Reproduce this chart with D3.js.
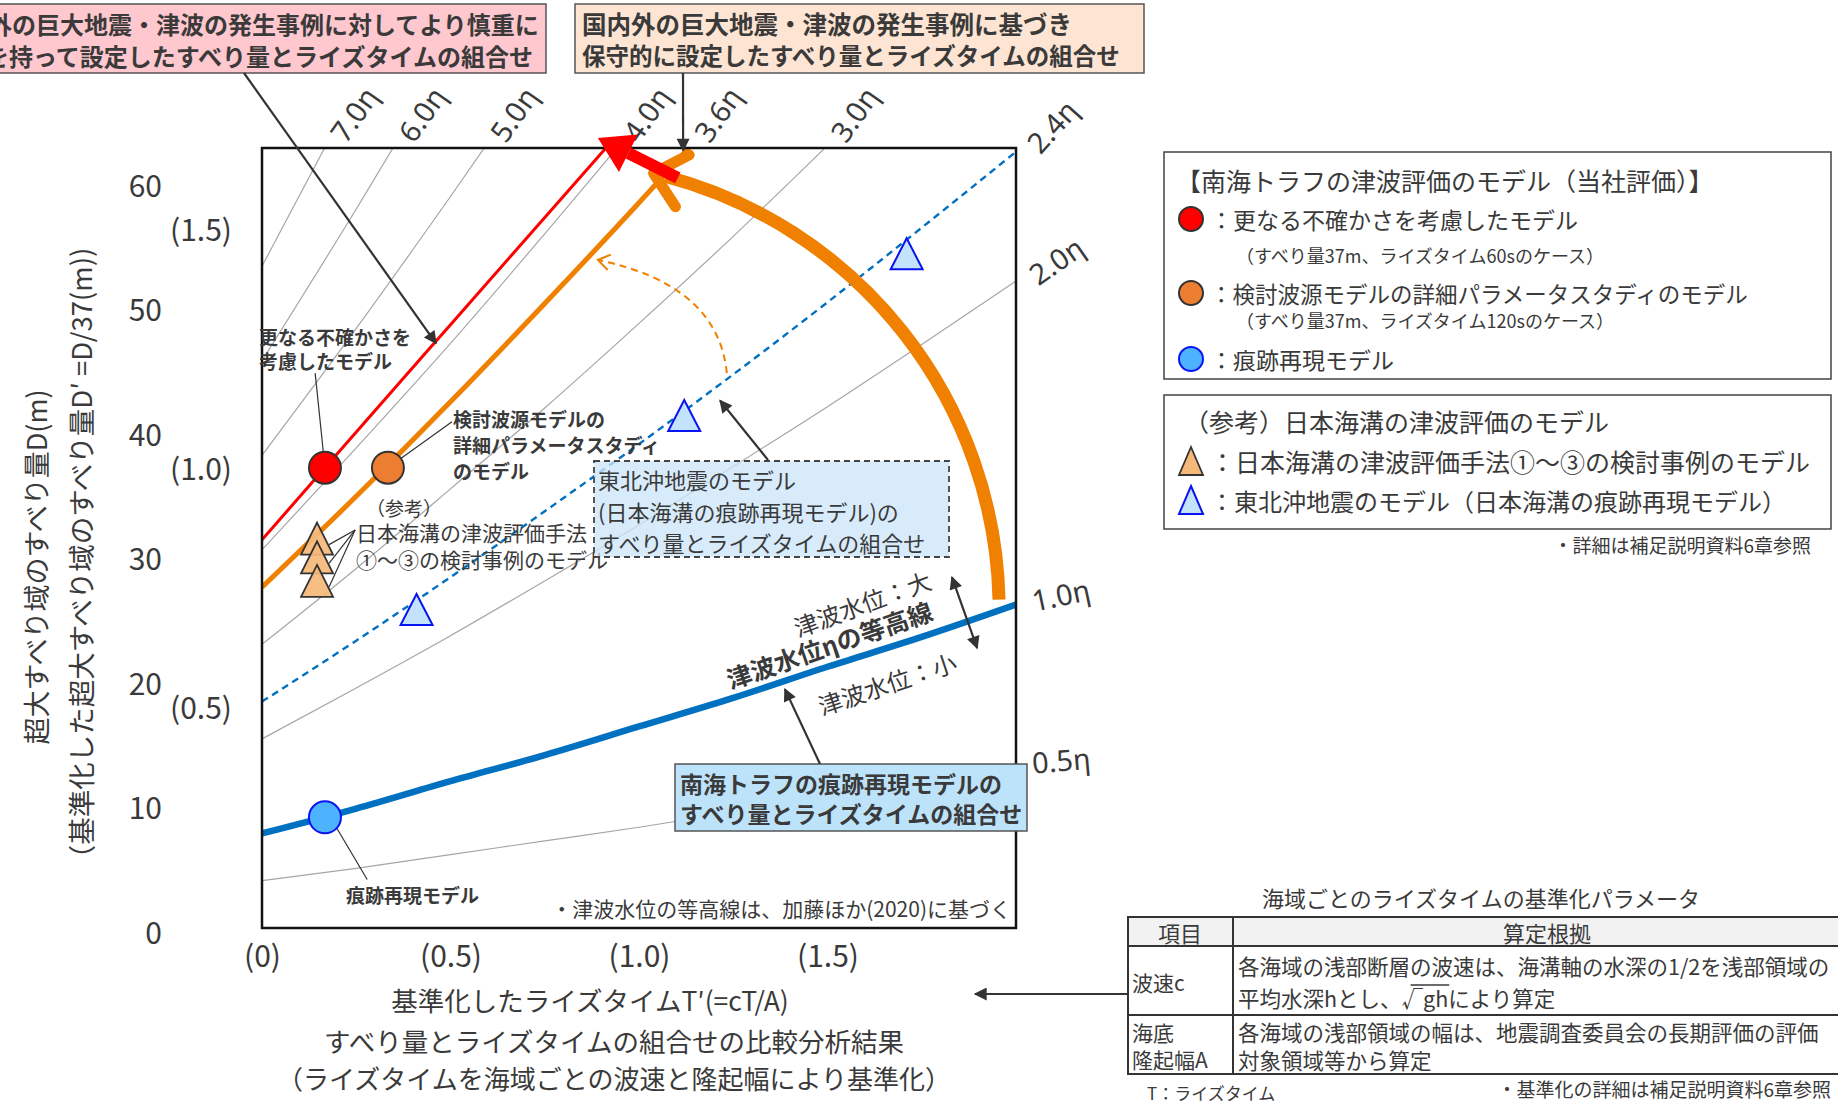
<!DOCTYPE html>
<html><head><meta charset="utf-8">
<script src="https://cdn.jsdelivr.net/npm/d3@7"></script>
<style>body{margin:0;background:#fff}svg{display:block}</style>
</head><body><svg id="c" width="1838" height="1102"></svg>
<script>
// ---------------- data ----------------
const tTickValues = [0, 0.5, 1.0, 1.5];
const tTickLabels = ["(0)", "(0.5)", "(1.0)", "(1.5)"];
const dTickValues = [0, 10, 20, 30, 40, 50, 60];
const dPrimeTickValues = [0.5, 1.0, 1.5];
const dPrimeTickLabels = ["(0.5)", "(1.0)", "(1.5)"];

const contourLevels = ["7.0η","6.0η","5.0η","4.0η","3.6η","3.0η","2.4η","2.0η","1.0η","0.5η"];
const contourT = [0, 0.25, 0.5, 0.75, 1.0, 1.25, 1.5, 1.75, 2.0];
const contourD = [
  [53.2, 67.5],
  [45.6, 57.8, 70.5],
  [38.0, 48.2, 58.8, 69.7],
  [30.4, 38.6, 47.0, 55.8, 64.8],
  [27.4, 34.7, 42.3, 50.2, 58.3, 66.7],
  [22.8, 28.9, 35.3, 41.8, 48.6, 55.6, 62.9, 70.3],
  [18.2, 23.1, 28.2, 33.5, 38.9, 44.5, 50.3, 56.3, 62.4],
  [15.2, 19.3, 23.5, 27.9, 32.4, 37.1, 41.9, 46.9, 52.0],
  [7.6, 9.6, 11.8, 13.9, 16.2, 18.5, 21.0, 23.4, 26.0],
  [3.8, 4.8, 5.9, 7.0, 8.1, 9.3, 10.5, 11.7, 13.0]
];
const redLineT = [0, 0.167, 0.5, 0.95];
const redLineD = [31.2, 37.0, 48.5, 64.0];

const modelNames = ["更なる不確かさを考慮したモデル", "検討波源モデルの詳細パラメータスタディのモデル", "痕跡再現モデル"];
const modelT = [0.167, 0.334, 0.167];
const modelD = [37.0, 37.0, 8.9];

const trenchT = [0.146, 0.146, 0.146];
const trenchD = [31.3, 29.8, 27.9];
const tohokuT = [0.41, 1.12, 1.71];
const tohokuD = [25.6, 41.2, 54.2];

// ---------------- setup ----------------
const JP = "'Noto Sans CJK JP','Noto Sans',sans-serif";
const TXT = "#3a3a3a";
const svg = d3.select("#c");
const x = d3.scaleLinear().domain([0, 2]).range([262, 1016]);
const y = d3.scaleLinear().domain([0, 62.7]).range([928, 148]);
const y2 = d3.scaleLinear().domain([0, 1.5]).range([947, 230]);

const defs = svg.append("defs");
defs.append("clipPath").attr("id", "plotclip").append("rect")
  .attr("x", 262).attr("y", 148).attr("width", 754).attr("height", 780);
defs.append("marker").attr("id", "ah").attr("viewBox", "0 0 10 10")
  .attr("refX", 9).attr("refY", 5).attr("markerWidth", 16).attr("markerHeight", 13)
  .attr("markerUnits", "userSpaceOnUse").attr("orient", "auto-start-reverse")
  .append("path").attr("d", "M0,0 L10,5 L0,10 z").attr("fill", "#333");

function txt(sel, X, Y, s, o = {}) {
  return sel.append("text").attr("x", X).attr("y", Y)
    .attr("font-family", o.ff || JP).attr("font-size", o.fs || 20)
    .attr("font-weight", o.fw || "normal").attr("fill", o.fill || TXT)
    .attr("text-anchor", o.anchor || "start").attr("dominant-baseline", "central")
    .text(s);
}
function arrow(x1, y1, x2, y2_) {
  return svg.append("line").attr("x1", x1).attr("y1", y1).attr("x2", x2).attr("y2", y2_)
    .attr("stroke", "#333").attr("stroke-width", 2.2).attr("marker-end", "url(#ah)");
}
function leader(x1, y1, x2, y2_) {
  svg.append("line").attr("x1", x1).attr("y1", y1).attr("x2", x2).attr("y2", y2_)
    .attr("stroke", "#333").attr("stroke-width", 1.2);
}
function triPath(w, h) { return `M0,${-h/2} L${w/2},${h/2} L${-w/2},${h/2} Z`; }
const rot = (v, t) => [v[0] * Math.cos(t) - v[1] * Math.sin(t), v[0] * Math.sin(t) + v[1] * Math.cos(t)];

// ---------------- contours ----------------
const line = d3.line().x(d => x(d[0])).y(d => y(d[1])).curve(d3.curveMonotoneX);
const special = {
  "3.6η": { stroke: "#f08000", w: 5 },
  "2.4η": { stroke: "#0070c0", w: 2.4, dash: "7,5" },
  "1.0η": { stroke: "#0070c0", w: 6.5 }
};
const labelRot = { "7.0η": -55, "6.0η": -55, "5.0η": -55, "4.0η": -55, "3.6η": -55, "3.0η": -55,
  "2.4η": -48, "2.0η": -35, "1.0η": -12, "0.5η": -5 };
const plotG = svg.append("g").attr("clip-path", "url(#plotclip)");
const series = contourLevels.map((lv, i) => ({ lv, pts: contourD[i].map((d, j) => [contourT[j], d]) }));
series.filter(s => !special[s.lv]).forEach(s => {
  plotG.append("path").attr("d", line(s.pts)).attr("fill", "none")
    .attr("stroke", "#a6a6a6").attr("stroke-width", 1.2);
});
series.filter(s => special[s.lv]).forEach(s => {
  const st = special[s.lv];
  plotG.append("path").attr("d", line(s.pts)).attr("fill", "none")
    .attr("stroke", st.stroke).attr("stroke-width", st.w)
    .attr("stroke-dasharray", st.dash || null);
});
plotG.append("path").attr("d", line(redLineT.map((t, i) => [t, redLineD[i]])))
  .attr("fill", "none").attr("stroke", "#ff0000").attr("stroke-width", 3);

series.forEach(s => {
  const P = s.pts.map(p => [x(p[0]), y(p[1])]);
  let ex = P[P.length - 1], top = false;
  for (let k = 1; k < P.length; k++) {
    if (P[k][1] < 148) {
      const f = (P[k-1][1] - 148) / (P[k-1][1] - P[k][1]);
      ex = [P[k-1][0] + f * (P[k][0] - P[k-1][0]), 148]; top = true; break;
    }
  }
  const isTop = top && s.lv !== "2.4η";
  const dx = isTop ? 12 : 16, dy = isTop ? -10 : -4;
  svg.append("text").attr("transform", `translate(${ex[0] + dx},${ex[1] + dy}) rotate(${labelRot[s.lv]})`)
    .attr("font-family", "'Noto Sans','DejaVu Sans',sans-serif").attr("font-size", 29)
    .attr("fill", TXT).attr("dominant-baseline", "central").text(s.lv);
});

svg.append("rect").attr("x", 262).attr("y", 148).attr("width", 754).attr("height", 780)
  .attr("fill", "none").attr("stroke", "#111").attr("stroke-width", 2.5);

// ---------------- axes ----------------
const ax = svg.append("g").attr("transform", "translate(262,0)")
  .call(d3.axisLeft(y).tickValues(dTickValues).tickSize(0).tickPadding(100));
ax.select(".domain").remove();
ax.selectAll("text").attr("font-family", JP).attr("font-size", 30).attr("fill", TXT).attr("dy", "0.5em");
const ax2 = svg.append("g").attr("transform", "translate(262,0)")
  .call(d3.axisLeft(y2).tickValues(dPrimeTickValues).tickFormat((d, i) => dPrimeTickLabels[i]).tickSize(0).tickPadding(30));
ax2.select(".domain").remove();
ax2.selectAll("text").attr("font-family", JP).attr("font-size", 30).attr("fill", TXT).attr("dy", "0.36em");
const axb = svg.append("g").attr("transform", "translate(0,946)")
  .call(d3.axisBottom(x).tickValues(tTickValues).tickFormat((d, i) => tTickLabels[i]).tickSize(0).tickPadding(0));
axb.select(".domain").remove();
axb.selectAll("text").attr("font-family", JP).attr("font-size", 30).attr("fill", TXT);

svg.append("text").attr("transform", "translate(35,567) rotate(-90)").attr("text-anchor", "middle")
  .attr("dominant-baseline", "central").attr("font-family", JP).attr("font-size", 27).attr("fill", TXT)
  .text("超大すべり域のすべり量D(m)");
svg.append("text").attr("transform", "translate(80,560) rotate(-90)").attr("text-anchor", "middle")
  .attr("dominant-baseline", "central").attr("font-family", JP).attr("font-size", 27.5).attr("fill", TXT)
  .text("（基準化した超大すべり域のすべり量D′ =D/37(m))");

txt(svg, 590, 999, "基準化したライズタイムT′(=cT/A)", { fs: 26.5, anchor: "middle" });
txt(svg, 614, 1040, "すべり量とライズタイムの組合せの比較分析結果", { fs: 26.5, anchor: "middle" });
txt(svg, 614, 1077, "（ライズタイムを海域ごとの波速と隆起幅により基準化）", { fs: 26, anchor: "middle" });

// ---------------- big arrows ----------------
{
  const C = [x(0.767), y(25.6)], P0 = [x(1.955), y(26.4)], E = [x(1.07), y(60.5)];
  const R = Math.hypot(P0[0] - C[0], P0[1] - C[1]);
  const a = Math.atan2(E[1] - C[1], E[0] - C[0]);
  const P1 = [C[0] + R * Math.cos(a), C[1] + R * Math.sin(a)];
  svg.append("path").attr("d", `M${P0[0]},${P0[1]} A${R},${R} 0 0 0 ${P1[0]},${P1[1]}`)
    .attr("fill", "none").attr("stroke", "#f08000").attr("stroke-width", 13);
  const rx = P1[0] - C[0], ry = P1[1] - C[1];
  let d = [ry, -rx]; const n = Math.hypot(d[0], d[1]); d = [d[0] / n, d[1] / n];
  const tip = [P1[0] + d[0] * 12, P1[1] + d[1] * 12];
  const back = [-d[0], -d[1]], L = 40, ang = 42 * Math.PI / 180;
  const a1 = rot(back, ang), a2 = rot(back, -ang);
  svg.append("path").attr("d", `M${tip[0] + a1[0] * L},${tip[1] + a1[1] * L} L${tip[0]},${tip[1]} L${tip[0] + a2[0] * L},${tip[1] + a2[1] * L}`)
    .attr("fill", "none").attr("stroke", "#f08000").attr("stroke-width", 11)
    .attr("stroke-linecap", "round").attr("stroke-linejoin", "round");
}
{
  const S = [x(1.103), y(60.3)], T = [x(0.891), y(63.5)];
  const dx = T[0] - S[0], dy = T[1] - S[1], n = Math.hypot(dx, dy), u = [dx / n, dy / n], p = [-u[1], u[0]];
  const hl = 34, hw = 21;
  const B = [T[0] - u[0] * hl, T[1] - u[1] * hl];
  svg.append("line").attr("x1", S[0]).attr("y1", S[1]).attr("x2", B[0]).attr("y2", B[1])
    .attr("stroke", "#ff0000").attr("stroke-width", 12);
  svg.append("path").attr("d", `M${T[0]},${T[1]} L${B[0] + p[0] * hw},${B[1] + p[1] * hw} L${B[0] - p[0] * hw},${B[1] - p[1] * hw} Z`)
    .attr("fill", "#ff0000");
}
{
  const S = [x(1.233), y(44.6)], Q = [x(1.21), y(51.7)], T = [x(0.891), y(53.7)];
  svg.append("path").attr("d", `M${S[0]},${S[1]} Q${Q[0]},${Q[1]} ${T[0]},${T[1]}`)
    .attr("fill", "none").attr("stroke", "#f08000").attr("stroke-width", 2).attr("stroke-dasharray", "7,5");
  const dx = T[0] - Q[0], dy = T[1] - Q[1], n = Math.hypot(dx, dy), u = [dx / n, dy / n];
  const a1 = rot([-u[0], -u[1]], 0.6), a2 = rot([-u[0], -u[1]], -0.6);
  svg.append("path").attr("d", `M${T[0] + a1[0] * 14},${T[1] + a1[1] * 14} L${T[0]},${T[1]} L${T[0] + a2[0] * 14},${T[1] + a2[1] * 14}`)
    .attr("fill", "none").attr("stroke", "#f08000").attr("stroke-width", 2);
}

// ---------------- markers ----------------
leader(x(modelT[0]), y(modelD[0]), x(0.141), y(44.6));
leader(x(modelT[1]), y(modelD[1]), x(0.504), y(40.7));
leader(x(modelT[2]) + 3, y(modelD[2]) - 4, x(0.279), y(3.9));
trenchT.forEach((t, i) => leader(x(0.247), y(32.0), x(t) + 12, y(trenchD[i]) + 6));

svg.selectAll(".trench").data(trenchT).join("path").attr("class", "trench")
  .attr("transform", (t, i) => `translate(${x(t)},${y(trenchD[i])})`)
  .attr("d", triPath(32, 32)).attr("fill", "#f5b878").attr("fill-opacity", 0.92)
  .attr("stroke", "#333").attr("stroke-width", 1.8);
svg.selectAll(".tohoku").data(tohokuT).join("path").attr("class", "tohoku")
  .attr("transform", (t, i) => `translate(${x(t)},${y(tohokuD[i])})`)
  .attr("d", triPath(32, 31)).attr("fill", "#c2e3fb")
  .attr("stroke", "#0a14f0").attr("stroke-width", 2);
const modelFill = ["#ff0000", "#ed7d31", "#4db3ff"], modelStroke = ["#333", "#333", "#0a14f0"];
svg.selectAll(".model").data(modelNames).join("circle").attr("class", "model")
  .attr("cx", (d, i) => x(modelT[i])).attr("cy", (d, i) => y(modelD[i])).attr("r", 16)
  .attr("fill", (d, i) => modelFill[i]).attr("stroke", (d, i) => modelStroke[i]).attr("stroke-width", 2);

// ---------------- plot annotations ----------------
txt(svg, 259, 336, "更なる不確かさを", { fs: 19, fw: "bold" });
txt(svg, 259, 360, "考慮したモデル", { fs: 19, fw: "bold" });
txt(svg, 453, 418, "検討波源モデルの", { fs: 19, fw: "bold" });
txt(svg, 453, 444, "詳細パラメータスタディ", { fs: 19, fw: "bold" });
txt(svg, 453, 470, "のモデル", { fs: 19, fw: "bold" });
txt(svg, 366, 507, "（参考）", { fs: 19 });
txt(svg, 356, 532, "日本海溝の津波評価手法", { fs: 21 });
txt(svg, 356, 559, "①～③の検討事例のモデル", { fs: 21 });
txt(svg, 346, 894, "痕跡再現モデル", { fs: 19, fw: "bold" });
txt(svg, 1011, 908, "・津波水位の等高線は、加藤ほか(2020)に基づく", { fs: 21, anchor: "end" });

svg.append("rect").attr("x", 594).attr("y", 461).attr("width", 355).attr("height", 96)
  .attr("fill", "rgba(205,230,250,0.78)").attr("stroke", "#444").attr("stroke-width", 1.8).attr("stroke-dasharray", "6,4");
txt(svg, 598, 479, "東北沖地震のモデル", { fs: 22 });
txt(svg, 598, 511, "(日本海溝の痕跡再現モデル)の", { fs: 22 });
txt(svg, 598, 542, "すべり量とライズタイムの組合せ", { fs: 22 });
arrow(768, 460, x(1.215), y(42.4));

svg.append("text").attr("transform", "translate(862,603) rotate(-20)").attr("text-anchor", "middle")
  .attr("dominant-baseline", "central").attr("font-family", JP).attr("font-size", 24).attr("fill", TXT).text("津波水位：大");
svg.append("text").attr("transform", "translate(829,644) rotate(-19)").attr("text-anchor", "middle")
  .attr("dominant-baseline", "central").attr("font-family", JP).attr("font-size", 25).attr("font-weight", "bold").attr("fill", TXT).text("津波水位ηの等高線");
svg.append("text").attr("transform", "translate(887,683) rotate(-18.5)").attr("text-anchor", "middle")
  .attr("dominant-baseline", "central").attr("font-family", JP).attr("font-size", 24).attr("fill", TXT).text("津波水位：小");
svg.append("line").attr("x1", x(1.830)).attr("y1", y(28.2)).attr("x2", x(1.897)).attr("y2", y(22.5))
  .attr("stroke", "#333").attr("stroke-width", 2.2).attr("marker-start", "url(#ah)").attr("marker-end", "url(#ah)");

svg.append("rect").attr("x", 675).attr("y", 764).attr("width", 352).attr("height", 67)
  .attr("fill", "#bde3fa").attr("stroke", "#555").attr("stroke-width", 1.5);
txt(svg, 680, 783, "南海トラフの痕跡再現モデルの", { fs: 23, fw: "bold" });
txt(svg, 680, 813, "すべり量とライズタイムの組合せ", { fs: 23, fw: "bold" });
arrow(820, 764, x(1.387), y(19.2));

// ---------------- top callouts ----------------
svg.append("rect").attr("x", -10).attr("y", 4).attr("width", 556).attr("height", 69)
  .attr("fill", "#ffc7ce").attr("stroke", "#555").attr("stroke-width", 1.5);
txt(svg, -60, 23, "国内外の巨大地震・津波の発生事例に対してより慎重に", { fs: 24, fw: "bold" });
txt(svg, -63, 55, "余裕を持って設定したすべり量とライズタイムの組合せ", { fs: 24, fw: "bold" });
arrow(244, 73, x(0.4615), y(47.0));

svg.append("rect").attr("x", 575).attr("y", 4).attr("width", 569).attr("height", 69)
  .attr("fill", "#fde4d3").attr("stroke", "#555").attr("stroke-width", 1.5);
txt(svg, 582, 23, "国内外の巨大地震・津波の発生事例に基づき", { fs: 24.5, fw: "bold" });
txt(svg, 582, 55, "保守的に設定したすべり量とライズタイムの組合せ", { fs: 23.5, fw: "bold" });
arrow(683, 73, x(1.117), y(62.5));

// ---------------- legends ----------------
svg.append("rect").attr("x", 1164).attr("y", 152).attr("width", 667).attr("height", 227)
  .attr("fill", "#fff").attr("stroke", "#444").attr("stroke-width", 1.5);
txt(svg, 1176, 180, "【南海トラフの津波評価のモデル（当社評価）】", { fs: 25 });
const legY = [219, 293, 359];
const legFs = [23, 22.5, 23];
const legSub = ["（すべり量37m、ライズタイム60sのケース）", "（すべり量37m、ライズタイム120sのケース）", null];
const legSubY = [255, 320, null];
modelNames.forEach((nm, i) => {
  svg.append("circle").attr("cx", 1191).attr("cy", legY[i]).attr("r", 12)
    .attr("fill", modelFill[i]).attr("stroke", modelStroke[i]).attr("stroke-width", 2);
  txt(svg, 1210, legY[i], "：" + nm, { fs: legFs[i] });
  if (legSub[i]) txt(svg, 1236, legSubY[i], legSub[i], { fs: 18 });
});
svg.append("rect").attr("x", 1164).attr("y", 395).attr("width", 667).attr("height", 134)
  .attr("fill", "#fff").attr("stroke", "#444").attr("stroke-width", 1.5);
txt(svg, 1184, 421, "（参考）日本海溝の津波評価のモデル", { fs: 25 });
svg.append("path").attr("transform", "translate(1191,461)").attr("d", triPath(24, 28))
  .attr("fill", "#f5b878").attr("stroke", "#333").attr("stroke-width", 1.8);
txt(svg, 1210, 461, "：日本海溝の津波評価手法①～③の検討事例のモデル", { fs: 25 });
svg.append("path").attr("transform", "translate(1191,500)").attr("d", triPath(24, 28))
  .attr("fill", "#c2e3fb").attr("stroke", "#0a14f0").attr("stroke-width", 2);
txt(svg, 1210, 500, "：東北沖地震のモデル（日本海溝の痕跡再現モデル）", { fs: 24 });
txt(svg, 1811, 544, "・詳細は補足説明資料6章参照", { fs: 19, anchor: "end" });

// ---------------- table ----------------
txt(svg, 1481, 897, "海域ごとのライズタイムの基準化パラメータ", { fs: 22, anchor: "middle" });
svg.append("rect").attr("x", 1128).attr("y", 917).attr("width", 734).attr("height", 29).attr("fill", "#f2f2f2");
svg.append("rect").attr("x", 1128).attr("y", 917).attr("width", 734).attr("height", 157)
  .attr("fill", "none").attr("stroke", "#333").attr("stroke-width", 2);
[946, 1015].forEach(yy => svg.append("line").attr("x1", 1128).attr("x2", 1862).attr("y1", yy).attr("y2", yy)
  .attr("stroke", "#333").attr("stroke-width", 2));
svg.append("line").attr("x1", 1233).attr("x2", 1233).attr("y1", 917).attr("y2", 1074).attr("stroke", "#333").attr("stroke-width", 2);
txt(svg, 1180, 932, "項目", { fs: 22, anchor: "middle" });
txt(svg, 1547, 932, "算定根拠", { fs: 22, anchor: "middle" });
txt(svg, 1132, 982, "波速c", { fs: 21 });
txt(svg, 1238, 965, "各海域の浅部断層の波速は、海溝軸の水深の1/2を浅部領域の", { fs: 21.5 });
const sq = txt(svg, 1238, 997, "平均水深hとし、√ghにより算定", { fs: 21.5 });
{
  const n = sq.node();
  const s0 = n.getStartPositionOfChar(8).x, e0 = n.getEndPositionOfChar(10).x;
  svg.append("line").attr("x1", s0 + 9).attr("x2", e0 + 1).attr("y1", 985).attr("y2", 985).attr("stroke", TXT).attr("stroke-width", 1.3);
}
txt(svg, 1132, 1032, "海底", { fs: 21 });
txt(svg, 1132, 1059, "隆起幅A", { fs: 21 });
txt(svg, 1238, 1031, "各海域の浅部領域の幅は、地震調査委員会の長期評価の評価", { fs: 21.5 });
txt(svg, 1238, 1059, "対象領域等から算定", { fs: 21.5 });
txt(svg, 1147, 1092, "T：ライズタイム", { fs: 17 });
txt(svg, 1831, 1088, "・基準化の詳細は補足説明資料6章参照", { fs: 19, anchor: "end" });
arrow(1128, 994, 975, 994);
</script></body></html>
